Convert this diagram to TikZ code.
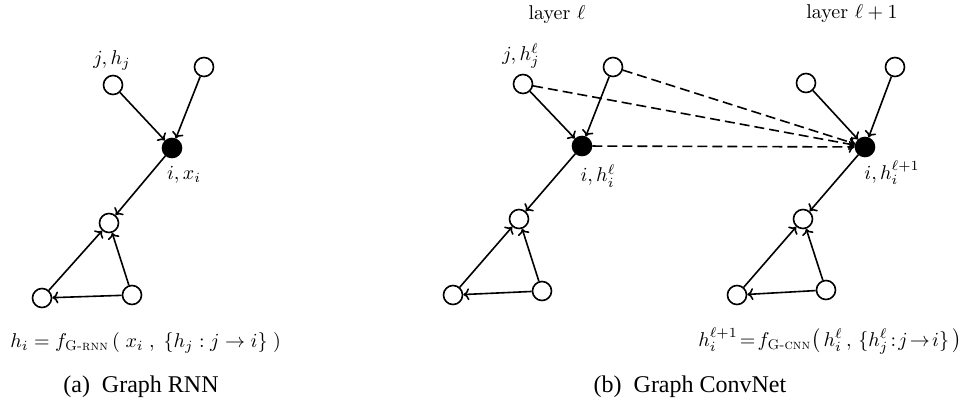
\documentclass[tikz,border=0pt]{standalone}
\usepackage{amsmath}
\usepackage{fontspec}
\newfontfamily\capfont{Liberation Serif}
\usetikzlibrary{arrows.meta,positioning}
\begin{document}
\begin{tikzpicture}[
  x=0.5pt, y=-0.5pt,
  vtx/.style={draw, circle, line width=0.8pt, minimum size=9.5pt, inner sep=0pt},
  hub/.style={vtx, fill=black},
  arr/.style={-{To[length=3pt,width=6pt]}, line width=0.8pt},
  darr/.style={arr, dash pattern=on 5pt off 2.5pt},
  subcap/.style={font=\capfont\fontsize{12}{14}\selectfont}
]
\useasboundingbox (0,0) rectangle (966,402);
\node[vtx] (aj) at (113,85) {};
\node[vtx] (at) at (204,67) {};
\node[hub] (ai) at (172,148) {};
\node[vtx] (am) at (109,223) {};
\node[vtx] (al) at (42,298) {};
\node[vtx] (ar) at (132,295) {};
\node (ajl) at (112,60) {$j, h_j$};
\node (ail) at (184,175) {$i, x_i$};
\draw[arr] (aj) -- (ai);
\draw[arr] (at) -- (ai);
\draw[arr] (ai) -- (am);
\draw[arr] (al) -- (am);
\draw[arr] (ar) -- (am);
\draw[arr] (ar) -- (al);
\node[anchor=west, inner sep=0pt] (af) at (10,343) {$h_i = f_{\text{\textsc{G-rnn}}}\,(\;x_i\;,\;\{h_j : j\rightarrow i\}\;)$};
\node[subcap] (acap) at (141,387) {(a)\enspace Graph RNN};
\node (lay) at (557,15) {layer $\ell$};
\node (lay1) at (852,14) {layer $\ell+1$};
\node[vtx] (bj) at (523,84) {};
\node[vtx] (bt) at (613,67) {};
\node[hub] (bi) at (582,146) {};
\node[vtx] (bm) at (519,219) {};
\node[vtx] (bl) at (453,295) {};
\node[vtx] (br) at (542,291) {};
\node (bjl) at (521,56) {$j, h_j^\ell$};
\node (bil) at (598,176) {$i, h_i^\ell$};
\draw[arr] (bj) -- (bi);
\draw[arr] (bt) -- (bi);
\draw[arr] (bi) -- (bm);
\draw[arr] (bl) -- (bm);
\draw[arr] (br) -- (bm);
\draw[arr] (br) -- (bl);
\node[vtx] (cj) at (806,83) {};
\node[vtx] (ct) at (895,67) {};
\node[hub] (ci) at (865,147) {};
\node[vtx] (cm) at (803,219) {};
\node[vtx] (cl) at (737,295) {};
\node[vtx] (cr) at (826,290) {};
\node (cil) at (892,173) {$i, h_i^{\ell+1}$};
\draw[arr] (cj) -- (ci);
\draw[arr] (ct) -- (ci);
\draw[arr] (ci) -- (cm);
\draw[arr] (cl) -- (cm);
\draw[arr] (cr) -- (cm);
\draw[arr] (cr) -- (cl);
\draw[darr] (bj) -- (ci);
\draw[darr] (bt) -- (ci);
\draw[darr] (bi) -- (ci);
\node[anchor=east, inner sep=0pt] (bf) at (962,341) {$h_i^{\ell+1}\!=\!f_{\text{\textsc{G-cnn}}}\big(\,h_i^\ell\,,\,\{h_j^\ell\!:\!j\!\rightarrow\! i\}\,\big)$};
\node[subcap] (bcap) at (690,387) {(b)\enspace Graph ConvNet};
\end{tikzpicture}
\end{document}
